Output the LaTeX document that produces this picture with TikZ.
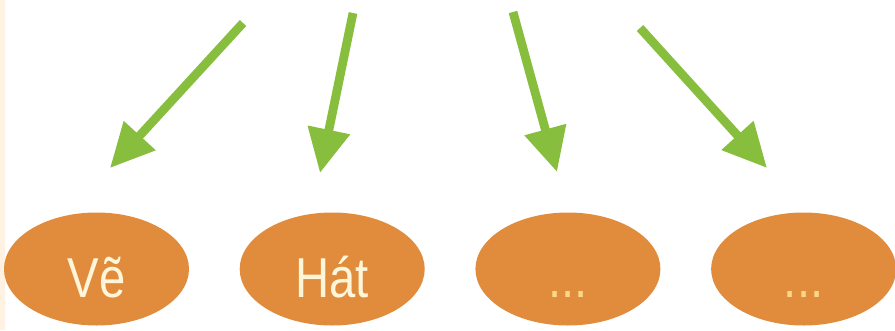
\documentclass[tikz,border=0pt]{standalone}
\usepackage{fontspec}
\usepackage{tikz}
\usetikzlibrary{shapes,arrows.meta,positioning}
\usepackage{xcolor}
\newfontfamily\actfont[FakeStretch=0.84]{Liberation Sans}
\definecolor{actorange}{RGB}{224,140,60}
\definecolor{actgreen}{RGB}{136,190,62}
\definecolor{acttext}{RGB}{255,246,218}
\definecolor{actdots}{RGB}{250,214,136}
\definecolor{actstrip}{RGB}{255,242,226}
\tikzset{
actbox/.style={ellipse,fill=actorange,draw=none,minimum width=3.70cm,minimum height=2.26cm,
  inner sep=0pt,text height=1.12cm,text depth=0pt,align=center,text=acttext,
  font=\actfont\fontsize{32}{36}\selectfont},
actdot/.style={actbox,text=actdots},
actarr/.style={actgreen,line width=5pt,-{Triangle[length=0.88cm,width=0.82cm]}}
}

\begin{document}
\begin{tikzpicture}[node distance=1cm]
\useasboundingbox (0,0) rectangle (17.9,6.6);
\fill[actstrip] (0,0) rectangle (0.1,6.6);
\node[actbox] (ve) at (1.93,1.22) {Vẽ};
\node[actbox,right=of ve] (hat) {Hát};
\node[actdot,right=of hat] (d1) {...};
\node[actdot,right=of d1] (d2) {...};
\coordinate (s1) at (4.86,6.14);
\coordinate (t1) at (2.20,3.24);
\coordinate (s2) at (7.06,6.34);
\coordinate (t2) at (6.40,3.14);
\coordinate (s3) at (10.26,6.36);
\coordinate (t3) at (11.14,3.16);
\coordinate (s4) at (12.80,6.04);
\coordinate (t4) at (15.34,3.24);
\draw[actarr] (s1) -- (t1);
\draw[actarr] (s2) -- (t2);
\draw[actarr] (s3) -- (t3);
\draw[actarr] (s4) -- (t4);
\end{tikzpicture}
\end{document}
